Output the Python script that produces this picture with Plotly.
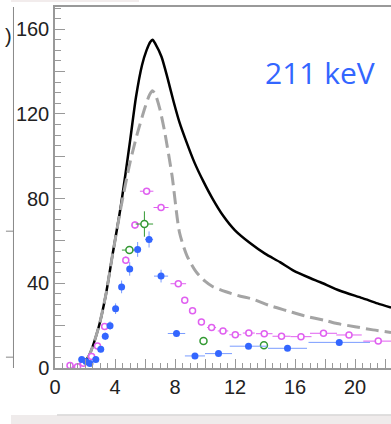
import plotly.graph_objects as go

# ---- data ----
black_x = [1.1, 1.6, 2.2, 2.9, 3.4, 3.8, 4.4, 5.0, 5.4, 5.8, 6.1, 6.35, 6.5, 6.7, 7.1, 7.5, 7.9, 8.3, 8.7,
           9.3, 9.9, 10.5, 11.2, 12.0, 13.0, 14.0, 15.0, 15.9, 17.0, 17.7, 19.0, 20.5, 21.5, 22.4]
black_y = [0, 1.5, 5, 19, 35, 52, 77, 107, 128, 143, 150, 154, 155, 153, 147, 137, 126, 116, 108,
           97, 88, 80, 72, 65, 59, 54, 50, 46, 42.5, 40.5, 36.5, 33, 30.5, 28.5]

dash_x = [1.1, 1.6, 2.2, 2.9, 3.4, 3.8, 4.4, 5.0, 5.5, 6.0, 6.3, 6.5, 6.7, 7.0, 7.3, 7.8, 8.3, 8.8,
          9.4, 10.0, 10.5, 11.4, 12.3, 13.2, 14.3, 15.5, 16.7, 18.0, 18.8, 20.0, 21.2, 22.4]
dash_y = [0, 1.5, 5, 19, 35, 52, 76, 97, 111, 123, 129, 131, 129, 122, 112, 91, 64, 53,
          45.5, 41, 38.5, 36, 34, 32.5, 29.5, 27, 24.5, 22.5, 21, 19.5, 18, 16.8]

blue_x = [1.78, 2.07, 2.33, 2.72, 3.05, 3.35, 3.67, 4.04, 4.44, 4.98, 5.51, 6.27, 7.07, 8.1, 9.33, 10.9, 12.9, 15.5, 18.95]
blue_y = [4.0, 3.1, 2.1, 4.0, 8.9, 15, 20, 28, 38.3, 46.8, 56, 60.7, 43.4, 16.3, 5.7, 6.8, 10.3, 9.3, 12.1]
blue_xerr = [0.12, 0.12, 0.12, 0.12, 0.12, 0.12, 0.12, 0.12, 0.15, 0.15, 0.2, 0.27, 0.47, 0.58, 0.67, 0.9, 1.25, 1.3, 2.05]
blue_yerr = [1, 1, 1, 1.2, 1.5, 1.8, 2, 2.5, 3, 3.2, 3.5, 3.8, 3, 1.5, 1, 1, 1.2, 1, 1.3]

mag_x = [1.0, 1.5, 1.89, 2.44, 2.83, 3.31, 4.72, 5.33, 6.11, 7.07, 8.22, 8.65, 9.17, 9.76, 10.44, 11.2,
         12.02, 12.92, 13.95, 15.1, 16.4, 17.9, 19.6, 21.55]
mag_y = [1.2, 0.6, 2.2, 5.4, 10.4, 19.6, 50.9, 67.5, 83.5, 75.8, 39.8, 32, 27, 21.7, 19.1, 17.5,
         15.7, 16.5, 16.2, 15.0, 14.8, 16.4, 15.6, 12.7]
mag_xerr = [0.15, 0.15, 0.15, 0.18, 0.18, 0.2, 0.2, 0.25, 0.45, 0.5, 0.52, 0.2, 0.2, 0.22, 0.3, 0.35,
            0.4, 0.4, 0.55, 0.6, 0.7, 0.9, 0.85, 1.0]
mag_yerr = [0.8, 0.8, 1, 1.2, 1.3, 1.5, 1.8, 1.8, 1.5, 1.5, 1.5, 1.5, 1.5, 1.5, 1.3, 1.3,
            1.3, 1.3, 1.3, 1.3, 1.3, 1.3, 1.3, 1.3]

green_x = [4.96, 5.96, 9.9, 13.93]
green_y = [55.7, 68, 12.8, 10.7]
green_xerr = [0.5, 0.58, 0.15, 0.15]
green_yerr = [1.5, 6, 1, 1]

x_ticks = [0, 2, 4, 6, 8, 10, 12, 14, 16, 18, 20, 22]
x_ticktext = ["0", "", "4", "", "8", "", "12", "", "16", "", "20", ""]
y_ticks = [0, 20, 40, 60, 80, 100, 120, 140, 160]
y_ticktext = ["0", "", "40", "", "80", "", "120", "", "160"]

BLUE = "#3366ff"
MAG = "#e060f0"
GREEN = "#339933"

fig = go.Figure()
fig.add_trace(go.Scatter(x=black_x, y=black_y, mode="lines",
                         line=dict(color="black", width=2.5, shape="spline", smoothing=0.7)))
fig.add_trace(go.Scatter(x=dash_x, y=dash_y, mode="lines",
                         line=dict(color="#a4a4a4", width=3, dash="13px,6px", shape="spline", smoothing=0.7)))
fig.add_trace(go.Scatter(x=mag_x, y=mag_y, mode="markers",
                         marker=dict(symbol="circle", size=6, color="white", line=dict(width=1.5, color=MAG)),
                         error_x=dict(type="data", array=mag_xerr, color=MAG, thickness=1, width=0),
                         error_y=dict(type="data", array=mag_yerr, color=MAG, thickness=1, width=0)))
fig.add_trace(go.Scatter(x=green_x, y=green_y, mode="markers",
                         marker=dict(symbol="circle", size=7, color="white", line=dict(width=1.5, color=GREEN)),
                         error_x=dict(type="data", array=green_xerr, color=GREEN, thickness=1, width=0),
                         error_y=dict(type="data", array=green_yerr, color=GREEN, thickness=1, width=0)))
fig.add_trace(go.Scatter(x=blue_x, y=blue_y, mode="markers",
                         marker=dict(symbol="circle", size=7, color=BLUE),
                         error_x=dict(type="data", array=blue_xerr, color="#7a9cff", thickness=1, width=0),
                         error_y=dict(type="data", array=blue_yerr, color="#7a9cff", thickness=1, width=0)))

fig.add_annotation(x=0.79, y=0.818, xref="paper", yref="paper", text="211 keV", showarrow=False,
                   font=dict(family="Open Sans", size=30, color=BLUE), xanchor="center", yanchor="middle")
fig.add_annotation(x=-0.155, y=0.92, xref="paper", yref="paper", text=")", showarrow=False,
                   font=dict(family="Liberation Sans", size=20, color="#222"), xanchor="left", yanchor="middle")

shapes = [
    dict(type="line", xref="paper", yref="paper", x0=-0.1236, x1=-0.1236, y0=0.0, y1=1.0,
         line=dict(color="#888", width=1)),
    dict(type="line", xref="paper", yref="paper", x0=-0.1460, x1=-0.1236, y0=0.379, y1=0.379,
         line=dict(color="#888", width=1)),
    dict(type="line", xref="paper", yref="paper", x0=-0.1460, x1=-0.1236, y0=0.030, y1=0.030,
         line=dict(color="#888", width=1)),
    dict(type="rect", xref="paper", yref="paper", x0=-0.131, x1=1.0, y0=-0.2, y1=-0.13,
         line=dict(width=0), fillcolor="#efebeb"),
    dict(type="line", xref="paper", yref="paper", x0=0.006, x1=1.0, y0=-0.13, y1=-0.13,
         line=dict(color="#c8c8c8", width=1)),
    dict(type="rect", xref="paper", yref="paper", x0=-0.131, x1=0.25, y0=1.014, y1=1.02,
         line=dict(width=0), fillcolor="#f2ecec"),
]
fig.update_layout(shapes=shapes)

fig.update_layout(
    width=391, height=424,
    margin=dict(l=55, r=0, t=7, b=56),
    plot_bgcolor="white", paper_bgcolor="white",
    showlegend=False,
    font=dict(family="Liberation Sans", size=20, color="#222"),
)
fig.update_xaxes(range=[0, 22.4], showgrid=False, zeroline=False,
                 showline=True, linecolor="#999", linewidth=1.5, mirror=True,
                 tickmode="array", tickvals=x_ticks, ticktext=x_ticktext,
                 ticks="inside", ticklen=9, tickcolor="#999", tickwidth=1.2,
                 minor=dict(dtick=0.5, ticks="inside", ticklen=5, tickcolor="#999", tickwidth=1),
                 tickfont=dict(size=20, family="Liberation Sans", color="#222"))
fig.update_yaxes(range=[0, 170.5], showgrid=False, zeroline=False,
                 showline=True, linecolor="#999", linewidth=1.5,
                 tickmode="array", tickvals=y_ticks, ticktext=y_ticktext,
                 ticks="inside", ticklen=10, tickcolor="#999", tickwidth=1.2,
                 minor=dict(dtick=5, ticks="inside", ticklen=6, tickcolor="#999", tickwidth=1),
                 tickfont=dict(size=20, family="Liberation Sans", color="#222"))

fig.write_html("out.html")
